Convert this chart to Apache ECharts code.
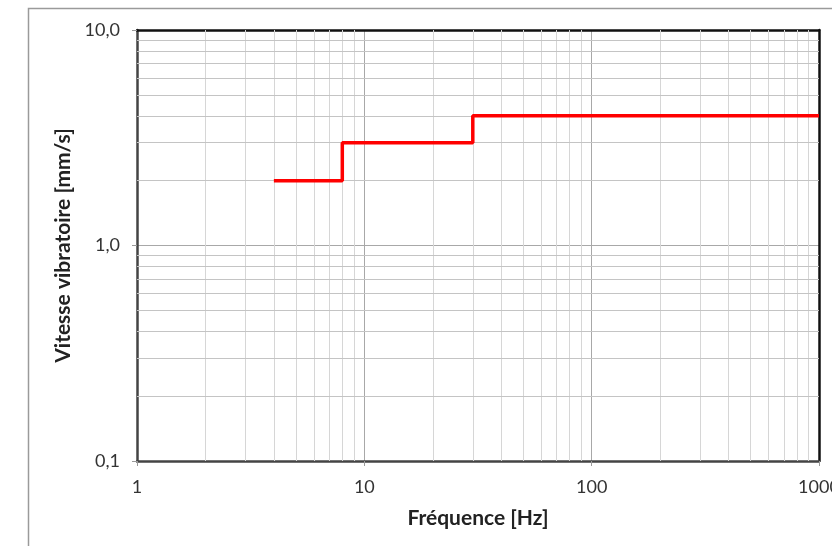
<!DOCTYPE html>
<html><head><meta charset="utf-8">
<script src="https://cdn.jsdelivr.net/npm/echarts@6/dist/echarts.min.js"></script>
<style>html,body{margin:0;padding:0;background:#fff}#c{width:832px;height:546px}</style>
</head><body><div id="c"></div>
<script>
const freqHz = [4, 8, 30, 1000];
const velocity = [2, 3, 4, 4];
const xTickLabels = ['1', '10', '100', '1000'];
const yTickLabels = ['0,1', '1,0', '10,0'];
const xTitle = 'Fréquence [Hz]';
const yTitle = 'Vitesse vibratoire [mm/s]';

const xMinor = [], yMinor = [];
[1, 10, 100].forEach(d => { for (let k = 2; k <= 9; k++) xMinor.push(k * d); });
[0.1, 1].forEach(d => { for (let k = 2; k <= 9; k++) yMinor.push(+(k * d).toFixed(2)); });

const font = 'Lato, "Open Sans", sans-serif';
const chart = echarts.init(document.getElementById('c'));
const fmtY = v => { const i = [0.1, 1, 10].findIndex(t => Math.abs(t - v) < 1e-9); return i >= 0 ? yTickLabels[i] : ''; };
const fmtX = v => { const i = [1, 10, 100, 1000].findIndex(t => Math.abs(t - v) < 1e-9); return i >= 0 ? xTickLabels[i] : ''; };

chart.setOption({
  animation: false,
  graphic: [{ type: 'rect', shape: { x: 28.5, y: 8.5, width: 900, height: 700 }, style: { fill: 'none', stroke: '#9a9a9a', lineWidth: 1.5 }, z: -10 }],
  grid: { left: 137, top: 30, right: 13, bottom: 85, outerBoundsMode: 'none', containLabel: false },
  xAxis: [{
    type: 'log', logBase: 10, min: 1, max: 1000,
    name: xTitle, nameLocation: 'middle', nameGap: 47,
    nameTextStyle: { fontFamily: font, fontSize: 21, fontWeight: 'bold', color: '#222' },
    axisLine: { show: true, lineStyle: { color: '#444', width: 2.5 } },
    axisTick: { show: true, length: 5, lineStyle: { color: '#999' } },
    axisLabel: { formatter: fmtX, fontFamily: font, fontSize: 18, color: '#333', margin: 17, showMaxLabel: true },
    splitLine: { show: true, lineStyle: { color: '#a8a8a8', width: 1 } }
  }, {
    type: 'log', logBase: 10, min: 1, max: 1000, position: 'top',
    axisLine: { show: true, lineStyle: { color: '#111', width: 2.5 } },
    axisTick: { show: false }, axisLabel: { show: false }, splitLine: { show: false }
  }],
  yAxis: [{
    type: 'log', logBase: 10, min: 0.1, max: 10,
    name: yTitle, nameLocation: 'middle', nameGap: 58,
    nameTextStyle: { fontFamily: font, fontSize: 21, fontWeight: 'bold', color: '#222' },
    axisLine: { show: true, lineStyle: { color: '#444', width: 2.5 } },
    axisTick: { show: true, length: 5, lineStyle: { color: '#999' } },
    axisLabel: { formatter: fmtY, fontFamily: font, fontSize: 18, color: '#333', margin: 17 },
    splitLine: { show: true, lineStyle: { color: '#a8a8a8', width: 1 } }
  }, {
    type: 'log', logBase: 10, min: 0.1, max: 10, position: 'right',
    axisLine: { show: true, lineStyle: { color: '#111', width: 2.5 } },
    axisTick: { show: false }, axisLabel: { show: false }, splitLine: { show: false }
  }],
  series: [{
    type: 'line', data: [], silent: true, z: 1,
    markLine: {
      silent: true, symbol: 'none', label: { show: false }, animation: false,
      lineStyle: { color: '#d6d6d6', width: 1, type: 'solid' },
      data: xMinor.map(v => ({ xAxis: v }))
    }
  }, {
    type: 'line', data: [], silent: true, z: 1,
    markLine: {
      silent: true, symbol: 'none', label: { show: false }, animation: false,
      lineStyle: { color: '#c4c4c4', width: 1, type: 'solid' },
      data: yMinor.map(v => ({ yAxis: v }))
    }
  }, {
    type: 'line', step: 'end', z: 5,
    data: freqHz.map((f, i) => [f, velocity[i]]),
    showSymbol: false, symbol: 'none',
    lineStyle: { color: '#ff0000', width: 3.5 }
  }]
});
</script></body></html>
